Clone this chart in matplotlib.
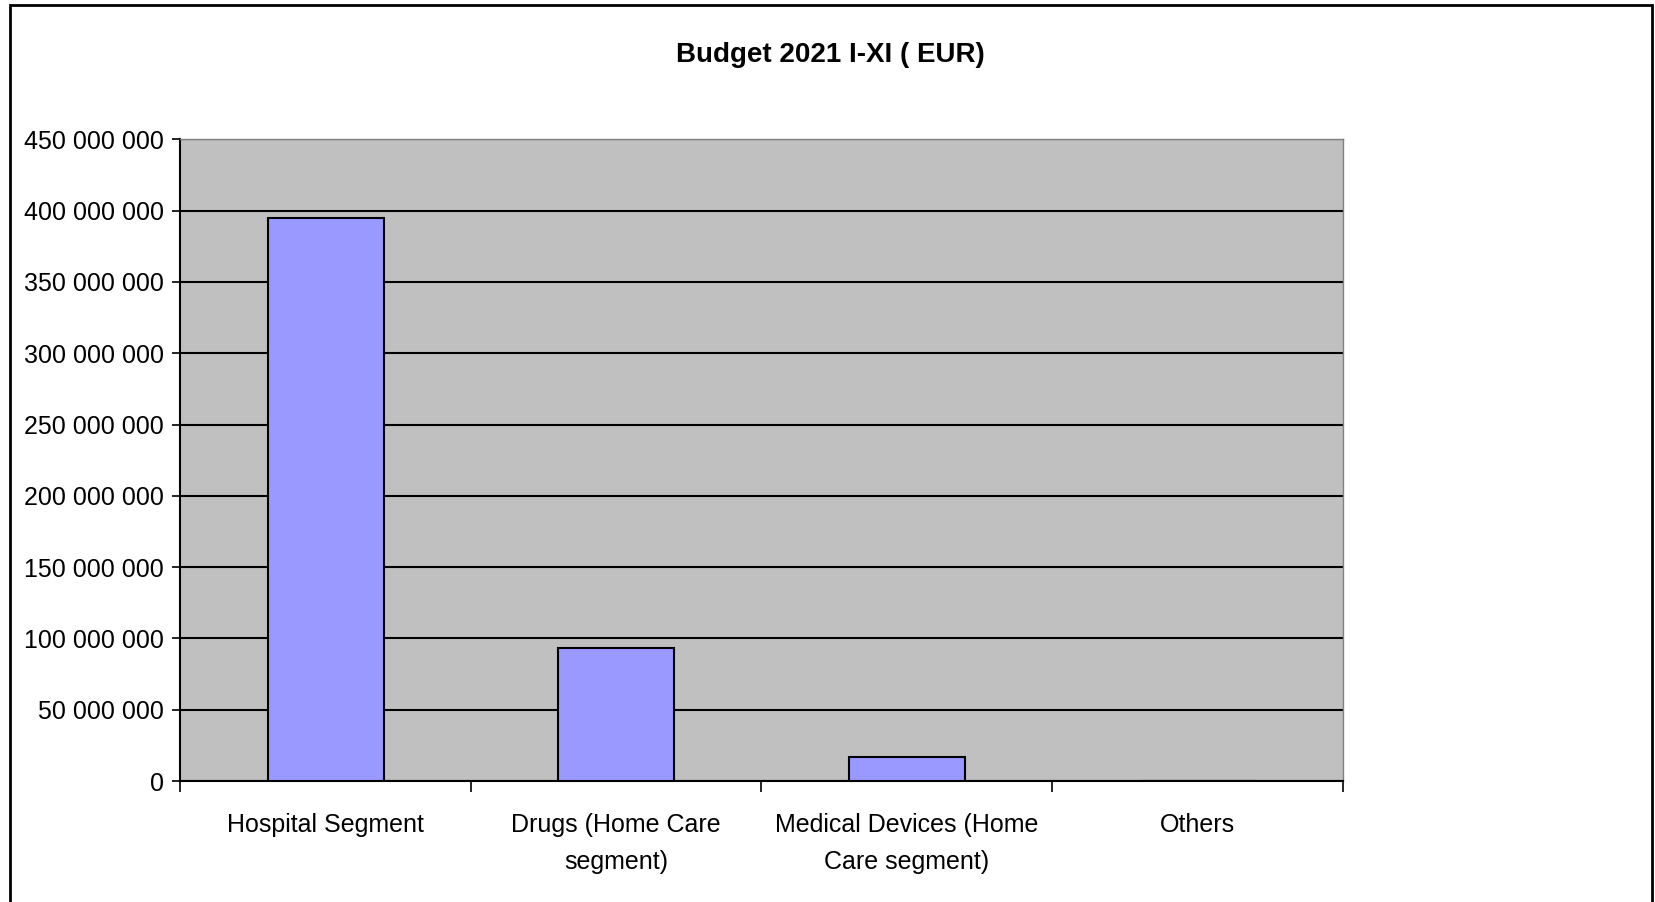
import matplotlib
matplotlib.use("Agg")
import matplotlib.pyplot as plt
from matplotlib.patches import Rectangle
from matplotlib.ticker import FuncFormatter, FixedLocator
from matplotlib import font_manager

names = sorted({f.name for f in font_manager.fontManager.ttflist})
FAM = ['Liberation Sans Narrow', 'Liberation Sans', 'DejaVu Sans']
FAM = [f for f in FAM if f in names]
plt.rcParams['font.family'] = FAM

categories = ["Hospital Segment", "Drugs (Home Care\nsegment)",
              "Medical Devices (Home\nCare segment)", "Others"]
values = [394_500_000, 93_300_000, 17_000_000, 0]
yticks = list(range(0, 450_000_001, 50_000_000))
title = "Budget 2021 I-XI ( EUR)"

fig = plt.figure(figsize=(16.55, 9.02), dpi=100)
fig.patch.set_facecolor("white")
ax = fig.add_axes([0.109, 0.1341, 0.7022, 0.7115])
ax.set_facecolor("#C0C0C0")

x = list(range(len(categories)))
ax.bar(x, values, width=0.4, color="#9999FF", edgecolor="black", linewidth=1.5, zorder=3)

ax.set_xlim(-0.5, len(categories) - 0.5)
ax.set_ylim(0, 450_000_000)
ax.yaxis.set_major_locator(FixedLocator(yticks))
ax.yaxis.set_major_formatter(FuncFormatter(lambda v, p: f"{int(v):,}".replace(",", " ")))
ax.grid(axis="y", color="black", linewidth=1.5, zorder=1)
ax.set_axisbelow(True)

ax.set_xticks([i - 0.5 for i in range(len(categories) + 1)])
ax.set_xticklabels([])
ax.set_xticks(x, minor=True)
ax.set_xticklabels(categories, minor=True, fontsize=18, linespacing=1.7)
ax.tick_params(axis="x", which="major", direction="out", length=8, width=1.2, color="black")
ax.tick_params(axis="x", which="minor", length=0, pad=23)
ax.tick_params(axis="y", direction="out", length=6, width=1.2, labelsize=18, pad=6)

for s in ["left", "bottom"]:
    ax.spines[s].set_color("black")
    ax.spines[s].set_linewidth(1.5)
for s in ["top", "right"]:
    ax.spines[s].set_color("#808080")
    ax.spines[s].set_linewidth(1.0)

fig.text(0.5015, 0.939, title, ha="center", va="center", fontsize=20, fontweight="bold")

fig.patches.append(Rectangle((10 / 1655, -0.02), (1652 - 10) / 1655, 1.02 - 5 / 902,
                             transform=fig.transFigure, fill=False, edgecolor="black",
                             linewidth=2, zorder=10))

fig.savefig("out.png", dpi=100)
